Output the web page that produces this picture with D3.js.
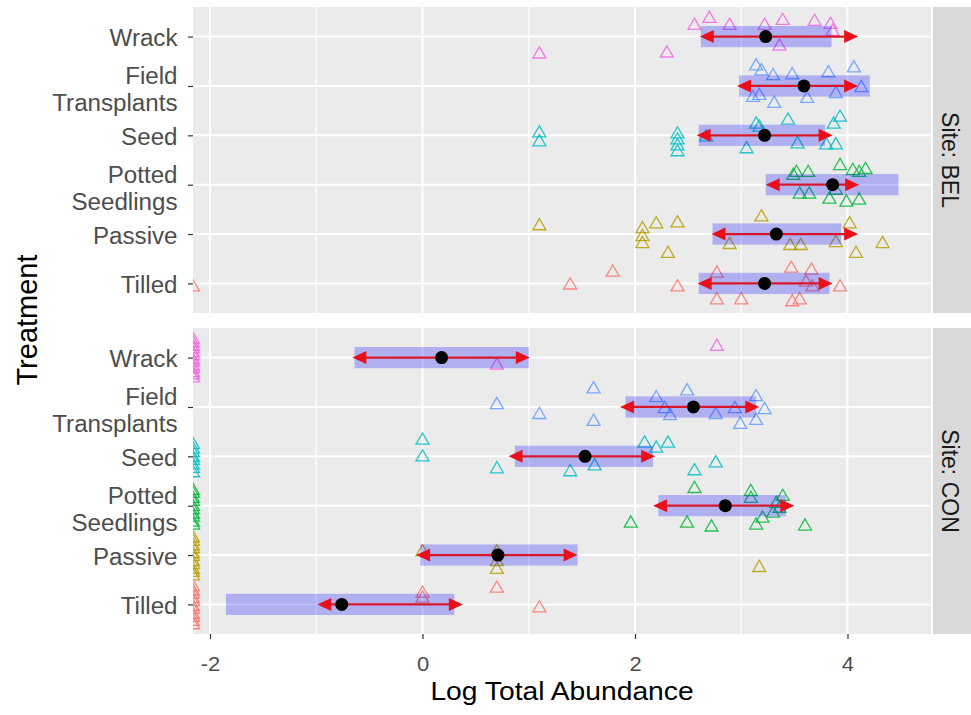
<!DOCTYPE html>
<html><head><meta charset="utf-8">
<script src="https://cdn.jsdelivr.net/npm/d3@7"></script>
<style>body{margin:0;background:#fff}svg{display:block}text{font-family:"Liberation Sans",Arial,sans-serif}</style>
</head><body><svg id="c" width="971" height="715"></svg>
<script>
// ---------- data ----------
const treatments = ["Tilled","Passive","Potted Seedlings","Seed","Field Transplants","Wrack"];
const treatmentLines = [["Tilled"],["Passive"],["Potted","Seedlings"],["Seed"],["Field","Transplants"],["Wrack"]];
const treatmentColors = ["#F8766D","#B79F00","#00BA38","#00BFC4","#619CFF","#F564E3"];
const sites = ["BEL","CON"];
const xTicks = [-2,0,2,4];
const xTickLabels = ["-2","0","2","4"];
const xMinorTicks = [-1,1,3];
const xLimits = [-2.16, 4.786];

// summaries, in treatment order
const meanBEL    = [3.22, 3.33, 3.86, 3.22, 3.59, 3.23];
const rectLoBEL  = [2.60, 2.73, 3.23, 2.60, 2.98, 2.62];
const rectHiBEL  = [3.83, 3.94, 4.48, 3.79, 4.21, 3.85];
const arrowLoBEL = [2.59, 2.72, 3.23, 2.58, 2.96, 2.61];
const arrowHiBEL = [3.86, 4.10, 4.11, 3.86, 4.10, 4.10];

const meanCON    = [-0.76, 0.71, 2.85, 1.53, 2.55, 0.18];
const rectLoCON  = [-1.85, -0.02, 2.22, 0.87, 1.91, -0.64];
const rectHiCON  = [0.30, 1.46, 3.42, 2.17, 3.14, 1.00];
const arrowLoCON = [-0.99, -0.06, 2.17, 0.81, 1.86, -0.66];
const arrowHiCON = [0.38, 1.46, 3.50, 2.19, 3.17, 1.01];

// raw observations: [treatment, log abundance, vertical jitter]
const pointsBEL = [
 ["Wrack",1.10,-0.32],["Wrack",2.30,-0.30],["Wrack",2.56,0.26],["Wrack",2.70,0.40],["Wrack",2.89,0.26],
 ["Wrack",3.22,0.26],["Wrack",3.39,0.36],["Wrack",3.69,0.34],["Wrack",3.84,0.28],["Wrack",3.36,-0.16],["Wrack",3.86,0.14],
 ["Field Transplants",3.14,0.44],["Field Transplants",3.19,0.34],["Field Transplants",3.30,0.24],["Field Transplants",3.48,0.26],
 ["Field Transplants",3.82,0.30],["Field Transplants",4.06,0.40],["Field Transplants",3.11,-0.20],["Field Transplants",3.17,-0.16],
 ["Field Transplants",3.31,-0.32],["Field Transplants",3.62,-0.22],["Field Transplants",3.89,-0.12],["Field Transplants",4.13,0.0],
 ["Seed",1.10,0.08],["Seed",1.10,-0.10],["Seed",2.40,0.06],["Seed",2.40,-0.06],["Seed",2.40,-0.18],["Seed",2.40,-0.30],
 ["Seed",3.14,0.26],["Seed",3.17,0.20],["Seed",3.44,0.34],["Seed",3.05,-0.24],["Seed",3.53,-0.14],["Seed",3.87,0.26],
 ["Seed",3.93,0.40],["Seed",3.89,-0.16],["Seed",3.80,-0.16],["Seed",2.67,0.0],
 ["Potted Seedlings",3.52,0.28],["Potted Seedlings",3.63,0.28],["Potted Seedlings",3.49,0.22],["Potted Seedlings",3.93,0.42],
 ["Potted Seedlings",4.05,0.32],["Potted Seedlings",4.17,0.34],["Potted Seedlings",4.11,0.28],["Potted Seedlings",3.55,-0.16],
 ["Potted Seedlings",3.64,-0.16],["Potted Seedlings",3.83,-0.26],["Potted Seedlings",3.99,-0.32],["Potted Seedlings",4.11,-0.28],
 ["Potted Seedlings",3.89,-0.08],
 ["Passive",1.10,0.20],["Passive",2.07,0.14],["Passive",2.07,-0.02],["Passive",2.07,-0.16],["Passive",2.20,0.24],
 ["Passive",2.40,0.26],["Passive",2.31,-0.36],["Passive",3.19,0.38],["Passive",2.89,-0.18],["Passive",3.46,-0.20],
 ["Passive",3.56,-0.20],["Passive",3.89,-0.14],["Passive",4.02,0.24],["Passive",4.08,-0.36],["Passive",4.33,-0.16],
 ["Tilled",-Infinity,-0.04],["Tilled",1.39,0.0],["Tilled",1.79,0.26],["Tilled",2.40,-0.04],["Tilled",2.77,-0.30],
 ["Tilled",3.00,-0.30],["Tilled",3.47,0.34],["Tilled",3.66,0.30],["Tilled",3.93,-0.04],["Tilled",3.48,-0.34],
 ["Tilled",3.55,-0.30],["Tilled",2.77,0.24],["Tilled",3.67,-0.04],["Tilled",3.61,0.06]
];
const pointsCON = [
 ["Wrack",0.70,-0.12],["Wrack",2.77,0.26],
 ["Wrack",-Infinity,0.40],["Wrack",-Infinity,0.33],["Wrack",-Infinity,0.26],["Wrack",-Infinity,0.21],["Wrack",-Infinity,0.13],
 ["Wrack",-Infinity,0.07],["Wrack",-Infinity,-0.01],["Wrack",-Infinity,-0.06],["Wrack",-Infinity,-0.14],["Wrack",-Infinity,-0.19],
 ["Wrack",-Infinity,-0.27],["Wrack",-Infinity,-0.32],["Wrack",-Infinity,-0.38],
 ["Field Transplants",0.70,0.08],["Field Transplants",1.10,-0.12],["Field Transplants",1.61,0.40],["Field Transplants",1.61,-0.26],
 ["Field Transplants",2.20,0.22],["Field Transplants",2.49,0.36],["Field Transplants",2.28,0.0],["Field Transplants",2.33,-0.14],
 ["Field Transplants",2.76,-0.12],["Field Transplants",2.94,0.0],["Field Transplants",3.14,0.24],["Field Transplants",3.22,-0.02],
 ["Field Transplants",3.14,-0.24],["Field Transplants",2.99,-0.32],
 ["Seed",0.00,0.36],["Seed",0.00,0.02],["Seed",0.70,-0.22],["Seed",1.39,-0.28],["Seed",1.62,-0.16],["Seed",2.09,0.30],
 ["Seed",2.20,0.20],["Seed",2.31,0.30],["Seed",2.56,-0.26],["Seed",2.76,-0.10],
 ["Seed",-Infinity,0.27],["Seed",-Infinity,0.18],["Seed",-Infinity,0.11],["Seed",-Infinity,0.01],["Seed",-Infinity,-0.05],
 ["Seed",-Infinity,-0.14],["Seed",-Infinity,-0.21],["Seed",-Infinity,-0.30],
 ["Potted Seedlings",1.96,-0.32],["Potted Seedlings",2.56,0.38],["Potted Seedlings",2.49,-0.32],["Potted Seedlings",2.72,-0.40],
 ["Potted Seedlings",3.09,0.32],["Potted Seedlings",3.09,0.18],["Potted Seedlings",3.39,0.22],["Potted Seedlings",3.14,-0.36],
 ["Potted Seedlings",3.20,-0.22],["Potted Seedlings",3.30,-0.12],["Potted Seedlings",3.36,-0.02],["Potted Seedlings",3.33,0.08],
 ["Potted Seedlings",3.60,-0.38],
 ["Potted Seedlings",-Infinity,0.34],["Potted Seedlings",-Infinity,0.28],["Potted Seedlings",-Infinity,0.18],["Potted Seedlings",-Infinity,0.12],
 ["Potted Seedlings",-Infinity,0.02],["Potted Seedlings",-Infinity,-0.05],["Potted Seedlings",-Infinity,-0.14],["Potted Seedlings",-Infinity,-0.20],
 ["Potted Seedlings",-Infinity,-0.30],["Potted Seedlings",-Infinity,-0.36],
 ["Passive",0.00,0.10],["Passive",0.70,0.10],["Passive",0.70,-0.10],["Passive",0.70,-0.26],["Passive",3.17,-0.22],
 ["Passive",-Infinity,0.38],["Passive",-Infinity,0.31],["Passive",-Infinity,0.22],["Passive",-Infinity,0.16],["Passive",-Infinity,0.06],
 ["Passive",-Infinity,0.00],["Passive",-Infinity,-0.10],["Passive",-Infinity,-0.16],["Passive",-Infinity,-0.26],["Passive",-Infinity,-0.32],
 ["Passive",-Infinity,-0.39],
 ["Tilled",0.00,0.26],["Tilled",0.00,0.16],["Tilled",0.70,0.36],["Tilled",1.10,-0.04],
 ["Tilled",-Infinity,0.39],["Tilled",-Infinity,0.30],["Tilled",-Infinity,0.24],["Tilled",-Infinity,0.15],["Tilled",-Infinity,0.09],
 ["Tilled",-Infinity,-0.01],["Tilled",-Infinity,-0.07],["Tilled",-Infinity,-0.17],["Tilled",-Infinity,-0.23],["Tilled",-Infinity,-0.31],
 ["Tilled",-Infinity,-0.38]
];

// ---------- layout ----------
const svg = d3.select("#c");
const PL = 193, PR = 931;
const panels = [
  {site:"BEL", top:7, bottom:313, mean:meanBEL, rlo:rectLoBEL, rhi:rectHiBEL, alo:arrowLoBEL, ahi:arrowHiBEL, pts:pointsBEL},
  {site:"CON", top:328, bottom:634, mean:meanCON, rlo:rectLoCON, rhi:rectHiCON, alo:arrowLoCON, ahi:arrowHiCON, pts:pointsCON}
];
const x = d3.scaleLinear().domain(xLimits).range([PL, PR]);
const colorOf = d3.scaleOrdinal().domain(treatments).range(treatmentColors);
const FONT = '"Liberation Sans", Arial, sans-serif';
const triPath = "M0,-5.6L6.5,5.6L-6.5,5.6Z";

panels.forEach((p, pi) => {
  const y = d3.scalePoint().domain(treatments).range([p.bottom, p.top]).padding(0.6);
  const step = y.step();
  const g = svg.append("g");
  g.append("rect").attr("x", PL).attr("y", p.top).attr("width", PR-PL).attr("height", p.bottom-p.top).attr("fill", "#ebebeb");
  g.selectAll(".mg").data(xMinorTicks).join("line")
    .attr("x1", d=>x(d)).attr("x2", d=>x(d)).attr("y1", p.top).attr("y2", p.bottom)
    .attr("stroke", "#fff").attr("stroke-width", 1.3);
  g.selectAll(".Mg").data(xTicks).join("line")
    .attr("x1", d=>x(d)).attr("x2", d=>x(d)).attr("y1", p.top).attr("y2", p.bottom)
    .attr("stroke", "#fff").attr("stroke-width", 2);
  g.selectAll(".hg").data(treatments).join("line")
    .attr("x1", PL).attr("x2", PR).attr("y1", d=>y(d)).attr("y2", d=>y(d))
    .attr("stroke", "#fff").attr("stroke-width", 2);
  const cid = "clip" + pi;
  svg.append("clipPath").attr("id", cid).append("rect")
    .attr("x", PL).attr("y", p.top).attr("width", PR-PL).attr("height", p.bottom-p.top);
  const data = g.append("g").attr("clip-path", `url(#${cid})`);
  data.selectAll("path.pt").data(p.pts).join("path")
    .attr("d", triPath)
    .attr("transform", d => {
      const px = d[1] === -Infinity ? PL : x(d[1]);
      return `translate(${px},${y(d[0]) - d[2]*step})`;
    })
    .attr("fill", "none").attr("stroke", d=>colorOf(d[0])).attr("stroke-width", 1.3).attr("stroke-opacity", 0.85);
  const rh = 0.43*step;
  data.selectAll("rect.r").data(treatments).join("rect")
    .attr("x", (d,i)=>x(p.rlo[i])).attr("width", (d,i)=>x(p.rhi[i])-x(p.rlo[i]))
    .attr("y", d=>y(d)-rh/2).attr("height", rh)
    .attr("fill", "#0000ff").attr("fill-opacity", 0.25);
  const HL = 14, HW = 6.5;
  data.selectAll("line.a").data(treatments).join("line")
    .attr("x1", (d,i)=>x(p.alo[i])+8).attr("x2", (d,i)=>x(p.ahi[i])-8)
    .attr("y1", d=>y(d)).attr("y2", d=>y(d))
    .attr("stroke", "#d8182a").attr("stroke-width", 2.2);
  data.selectAll("path.al").data(treatments).join("path")
    .attr("d", (d,i)=>{const a=x(p.alo[i]), c=y(d); return `M${a},${c}L${a+HL},${c-HW}L${a+HL},${c+HW}Z`;})
    .attr("fill", "#e8101a");
  data.selectAll("path.ar").data(treatments).join("path")
    .attr("d", (d,i)=>{const a=x(p.ahi[i]), c=y(d); return `M${a},${c}L${a-HL},${c-HW}L${a-HL},${c+HW}Z`;})
    .attr("fill", "#e8101a");
  data.selectAll("circle.m").data(treatments).join("circle")
    .attr("cx", (d,i)=>x(p.mean[i])).attr("cy", d=>y(d)).attr("r", 6.5).attr("fill", "#000");

  const ya = svg.append("g").attr("transform", `translate(${PL},0)`)
    .call(d3.axisLeft(y).tickSize(5).tickFormat(""));
  ya.select(".domain").remove();
  ya.selectAll(".tick line").attr("stroke", "#333").attr("stroke-width", 1.2);
  ya.selectAll(".tick").each(function(d) {
    const lines = treatmentLines[treatments.indexOf(d)];
    const t = d3.select(this).select("text").text(null)
      .attr("x", null).attr("dy", null)
      .attr("transform", "scale(1.05,1)")
      .attr("text-anchor", "end").attr("fill", "#4d4d4d")
      .style("font-size", "23px").style("font-family", FONT);
    if (lines.length === 1) {
      t.append("tspan").attr("x", -15.5/1.05).attr("y", 9).text(lines[0]);
    } else {
      t.append("tspan").attr("x", -15.5/1.05).attr("y", -2).text(lines[0]);
      t.append("tspan").attr("x", -15.5/1.05).attr("y", 24.5).text(lines[1]);
    }
  });

  svg.append("rect").attr("x", 933).attr("y", p.top).attr("width", 38).attr("height", p.bottom-p.top).attr("fill", "#d9d9d9");
  svg.append("text").attr("transform", `translate(950,${(p.top+p.bottom)/2}) rotate(90)`)
    .attr("text-anchor", "middle").attr("dy", "0.36em")
    .style("font-size", "23px").style("font-family", FONT).attr("fill", "#1a1a1a")
    .text("Site: " + p.site);

  if (pi === 1) {
    const xa = svg.append("g").attr("transform", `translate(0,${p.bottom})`)
      .call(d3.axisBottom(x).tickValues(xTicks).tickSize(5).tickFormat((d,i)=>xTickLabels[i]));
    xa.select(".domain").remove();
    xa.selectAll(".tick line").attr("stroke", "#333").attr("stroke-width", 1.2);
    xa.selectAll(".tick text").attr("y", 37.5).attr("dy", null)
      .attr("transform", "scale(1.1,1)").attr("x", 0)
      .attr("fill", "#4d4d4d").style("font-size", "20px").style("font-family", FONT);
  }
});

svg.append("text").attr("transform", `translate(${(PL+PR)/2},700) scale(1.13,1)`)
  .attr("text-anchor", "middle").style("font-size", "25px").style("font-family", FONT).attr("fill", "#000")
  .text("Log Total Abundance");
svg.append("text").attr("transform", "translate(37,320) rotate(-90)")
  .attr("text-anchor", "middle").style("font-size", "29px").style("font-family", FONT).attr("fill", "#000")
  .text("Treatment");
</script></body></html>
